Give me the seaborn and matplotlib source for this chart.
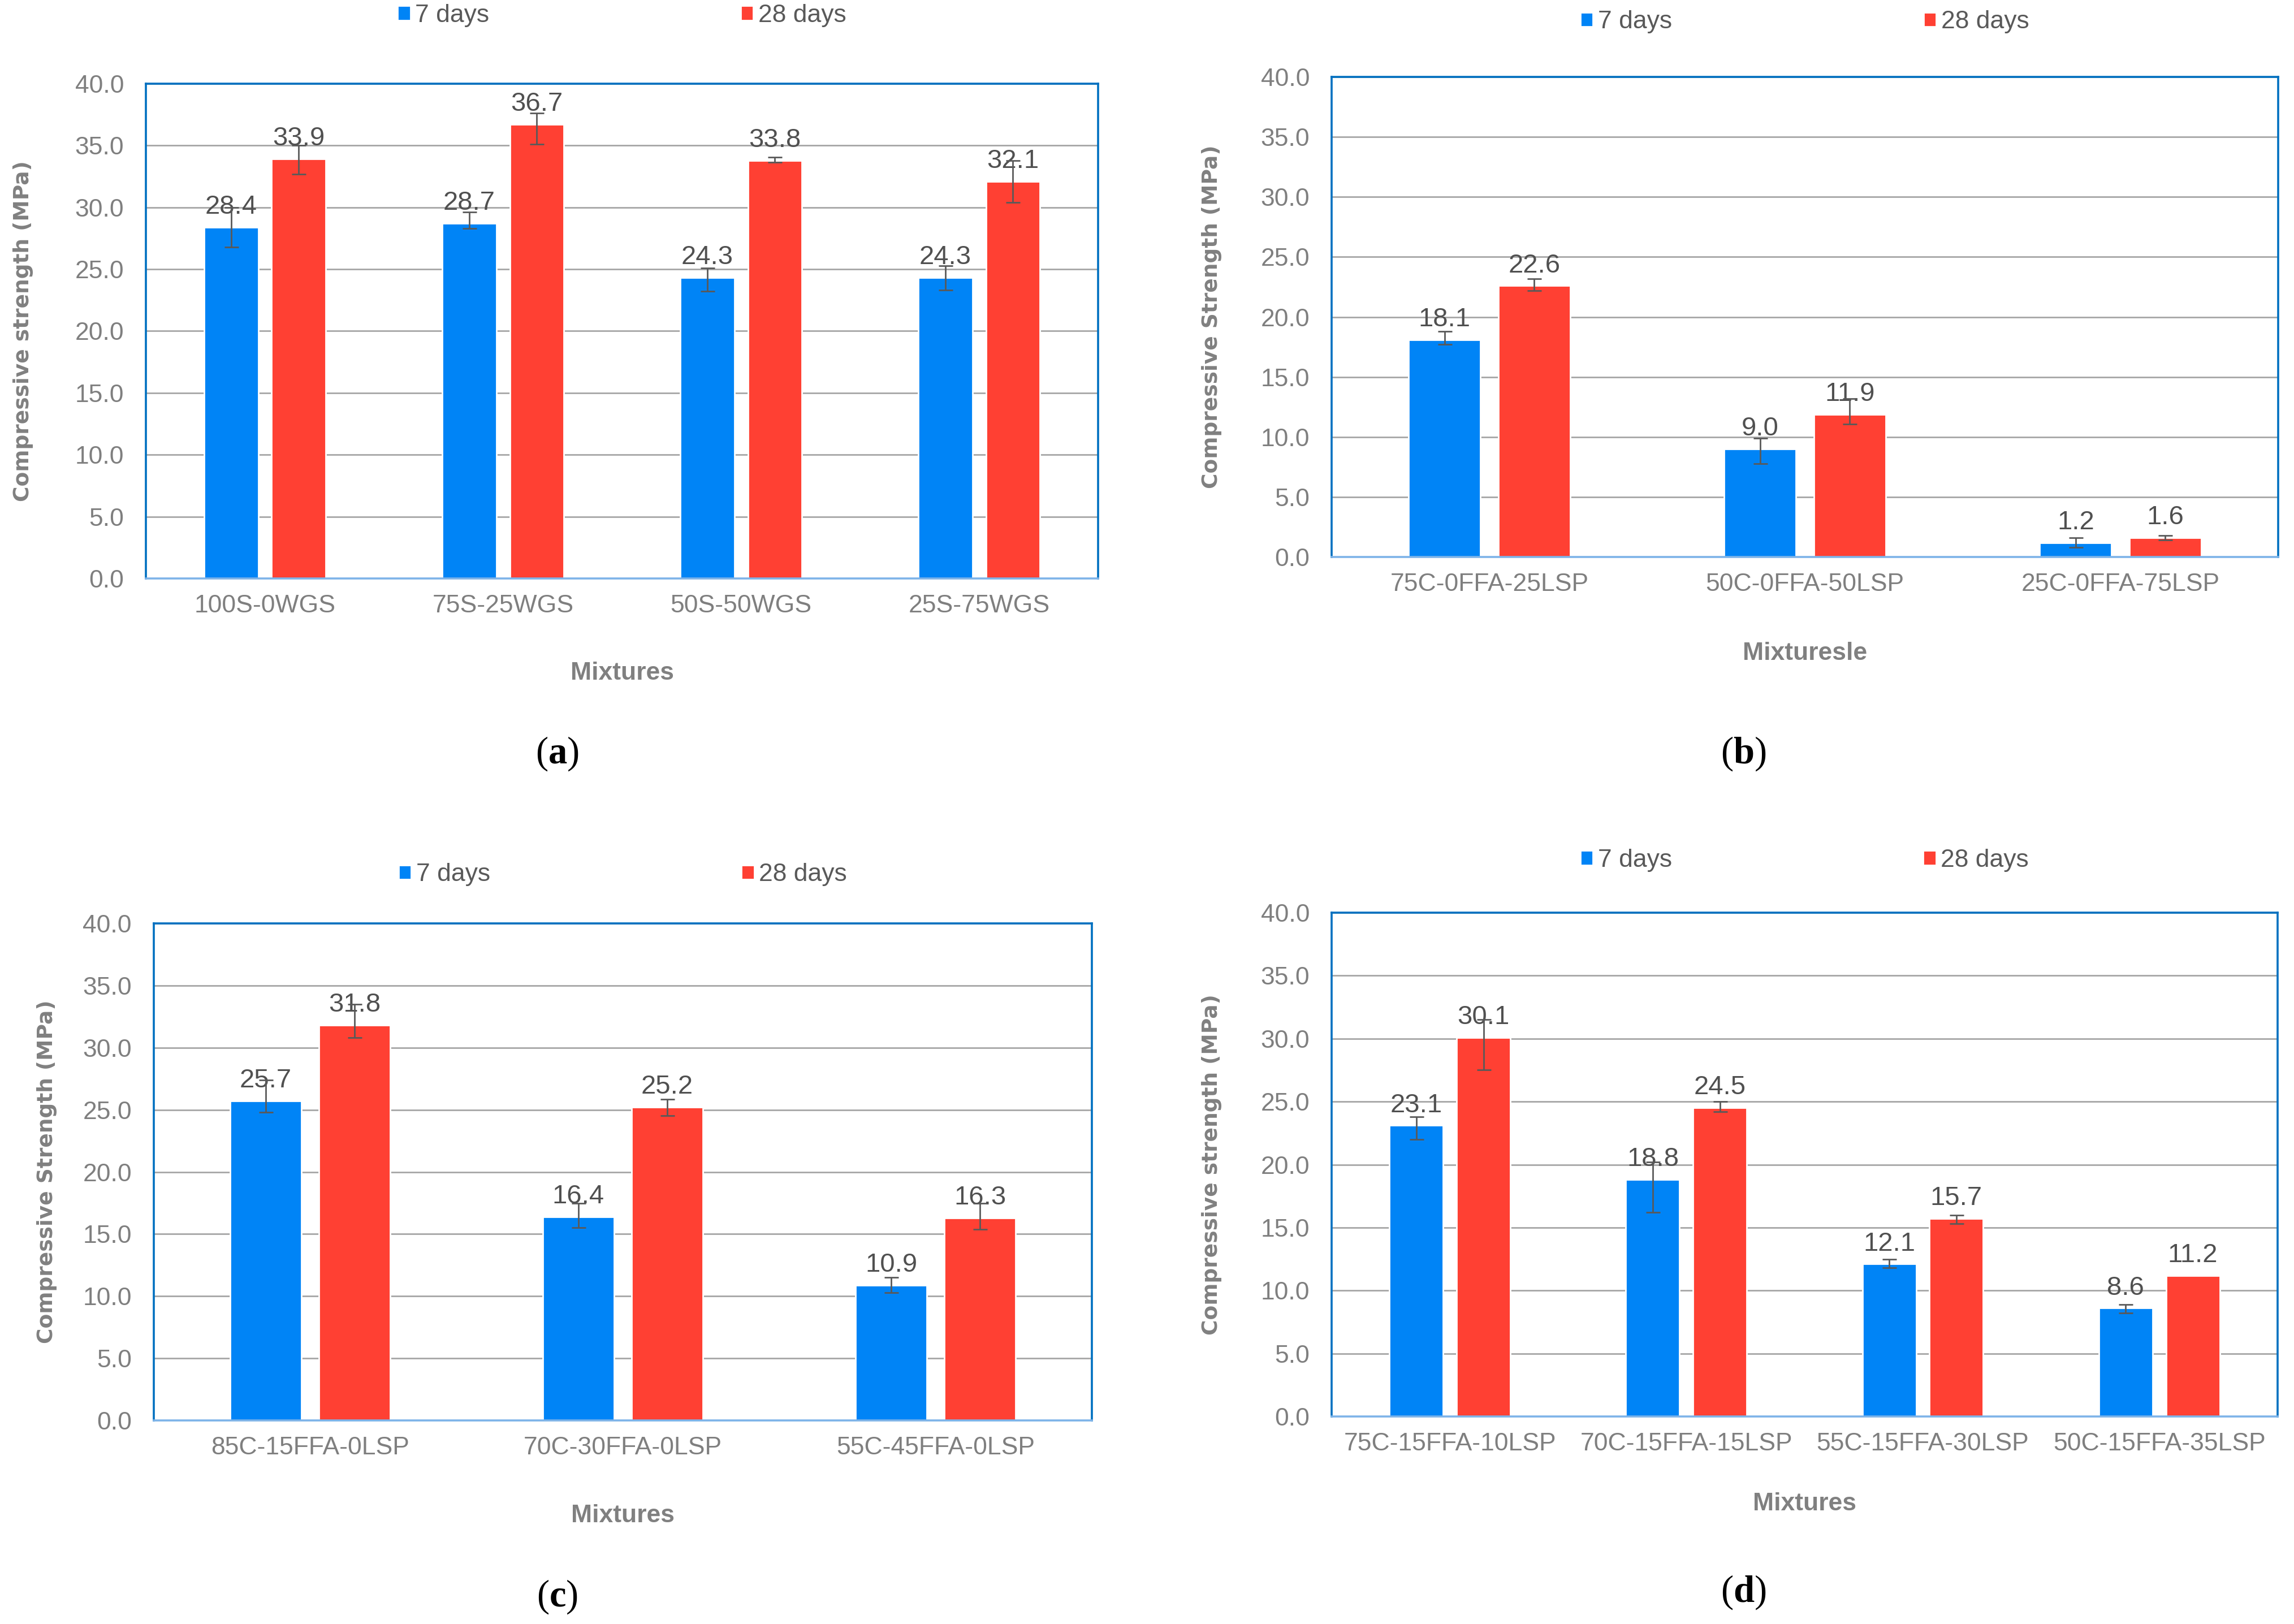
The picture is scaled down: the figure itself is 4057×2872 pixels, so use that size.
import matplotlib
matplotlib.use('Agg')
import pandas as pd
import seaborn as sns
import matplotlib.pyplot as plt

# panel (a)
mix_a = ['100S-0WGS', '75S-25WGS', '50S-50WGS', '25S-75WGS']
a_7 = [28.4, 28.7, 24.3, 24.3]
a_28 = [33.9, 36.7, 33.8, 32.1]
a_7_lo = [1.6, 0.4, 1.1, 1.0]
a_7_hi = [1.6, 0.9, 0.8, 1.0]
a_28_lo = [1.2, 1.6, 0.15, 1.7]
a_28_hi = [1.1, 0.9, 0.25, 1.7]

# panel (b)
mix_b = ['75C-0FFA-25LSP', '50C-0FFA-50LSP', '25C-0FFA-75LSP']
b_7 = [18.1, 9.0, 1.2]
b_28 = [22.6, 11.9, 1.6]
b_7_lo = [0.4, 1.2, 0.4]
b_7_hi = [0.7, 0.9, 0.4]
b_28_lo = [0.4, 0.8, 0.2]
b_28_hi = [0.6, 1.3, 0.2]

# panel (c)
mix_c = ['85C-15FFA-0LSP', '70C-30FFA-0LSP', '55C-45FFA-0LSP']
c_7 = [25.7, 16.4, 10.9]
c_28 = [31.8, 25.2, 16.3]
c_7_lo = [0.9, 0.9, 0.6]
c_7_hi = [1.7, 1.1, 0.6]
c_28_lo = [1.0, 0.65, 0.9]
c_28_hi = [1.7, 0.65, 1.2]

# panel (d)
mix_d = ['75C-15FFA-10LSP', '70C-15FFA-15LSP', '55C-15FFA-30LSP', '50C-15FFA-35LSP']
d_7 = [23.1, 18.8, 12.1, 8.6]
d_28 = [30.1, 24.5, 15.7, 11.2]
d_7_lo = [1.1, 2.6, 0.3, 0.4]
d_7_hi = [0.7, 1.4, 0.4, 0.3]
d_28_lo = [2.6, 0.3, 0.4, 0.0]
d_28_hi = [1.4, 0.5, 0.3, 0.0]

ages = ['7 days', '28 days']
colors = ['#0084F6', '#FF4033']
y_ticks = [0, 5, 10, 15, 20, 25, 30, 35, 40]

sns.set_style('white')
plt.rcParams['font.family'] = ['Liberation Sans', 'DejaVu Sans']
plt.rcParams['mathtext.fontset'] = 'custom'
plt.rcParams['mathtext.rm'] = 'Liberation Serif'
plt.rcParams['mathtext.bf'] = 'Liberation Serif:bold'

TICK_GRAY = '#7F7F7F'
FRAME_BLUE = '#0070C0'


def draw_panel(ax, mixtures, v7, v28, errs, ylabel, xlabel, ylab_x, xlab_y, leg_y):
    df = pd.DataFrame({
        'Mixture': mixtures * 2,
        'Age': [ages[0]] * len(mixtures) + [ages[1]] * len(mixtures),
        'Strength': v7 + v28,
    })
    sns.barplot(data=df, x='Mixture', y='Strength', hue='Age', hue_order=ages,
                palette=colors, width=0.568, gap=0.2, errorbar=None,
                saturation=1, ax=ax, zorder=2)

    for cont, (lo, hi) in zip(ax.containers, errs):
        # error bars only where a spread was shown in the original
        pts = [(p.get_x() + p.get_width() / 2, p.get_height(), l, h)
               for p, l, h in zip(cont.patches, lo, hi) if l + h > 0]
        xs, hs, ls, us = zip(*pts)
        ax.errorbar(xs, hs, yerr=[ls, us], fmt='none', ecolor='#595959',
                    elinewidth=1.0, capsize=4.5, capthick=1.0, zorder=4)
        ax.bar_label(cont, fmt='%.1f', padding=5, fontsize=17, color='#505050', zorder=3)

    ax.set_xlim(-0.5, len(mixtures) - 0.5)
    ax.set_ylim(0, 40)
    ax.set_yticks(y_ticks)
    ax.set_yticklabels([f'{t:.1f}' for t in y_ticks])
    ax.yaxis.grid(True, color='#A6A6A6', linewidth=1.0, zorder=0)
    ax.set_axisbelow(True)
    ax.tick_params(axis='both', length=0, labelsize=16, labelcolor=TICK_GRAY)
    ax.tick_params(axis='y', pad=14)
    ax.tick_params(axis='x', pad=10)

    for side in ['top', 'left', 'right']:
        ax.spines[side].set_color(FRAME_BLUE)
        ax.spines[side].set_linewidth(1.3)
    ax.spines['bottom'].set_color('#7DB3E8')
    ax.spines['bottom'].set_linewidth(1.3)

    ax.set_ylabel(ylabel, fontsize=13.5, fontweight='bold', color='#808080',
                  family='DejaVu Sans', va='center')
    ax.yaxis.set_label_coords(-ylab_x, 0.5)
    ax.set_xlabel(xlabel, fontsize=16, fontweight='bold', color='#808080', va='center')
    ax.xaxis.set_label_coords(0.5, -xlab_y)

    ax.legend(loc='center', bbox_to_anchor=(0.5, leg_y), ncol=2, frameon=False,
              fontsize=16, labelcolor='#595959', handlelength=0.5, handleheight=0.5,
              handletextpad=0.2, columnspacing=10)


fig = plt.figure(figsize=(20.285, 14.36), dpi=200)
ax_a = fig.add_axes([0.0636, 0.6438, 0.4151, 0.3047])
ax_b = fig.add_axes([0.5805, 0.6570, 0.4126, 0.2956])
ax_c = fig.add_axes([0.0670, 0.1253, 0.4090, 0.3061])
ax_d = fig.add_axes([0.5805, 0.1278, 0.4123, 0.3102])

draw_panel(ax_a, mix_a, a_7, a_28, [(a_7_lo, a_7_hi), (a_28_lo, a_28_hi)],
           'Compressive strength (MPa)', 'Mixtures', 0.129, 0.191, 1.138)
draw_panel(ax_b, mix_b, b_7, b_28, [(b_7_lo, b_7_hi), (b_28_lo, b_28_hi)],
           'Compressive Strength (MPa)', 'Mixturesle', 0.127, 0.201, 1.115)
draw_panel(ax_c, mix_c, c_7, c_28, [(c_7_lo, c_7_hi), (c_28_lo, c_28_hi)],
           'Compressive Strength (MPa)', 'Mixtures', 0.114, 0.191, 1.098)
draw_panel(ax_d, mix_d, d_7, d_28, [(d_7_lo, d_7_hi), (d_28_lo, d_28_hi)],
           'Compressive strength (MPa)', 'Mixtures', 0.127, 0.173, 1.104)

for letter, x, y in [('a', 0.2428, 0.536), ('b', 0.760, 0.536),
                     ('c', 0.2428, 0.0167), ('d', 0.760, 0.0195)]:
    fig.text(x, y, '($\\mathbf{' + letter + '}$)', fontsize=24, family='Liberation Serif',
             ha='center', va='center', color='black')

fig.savefig('out.png', dpi=200, facecolor='white')
